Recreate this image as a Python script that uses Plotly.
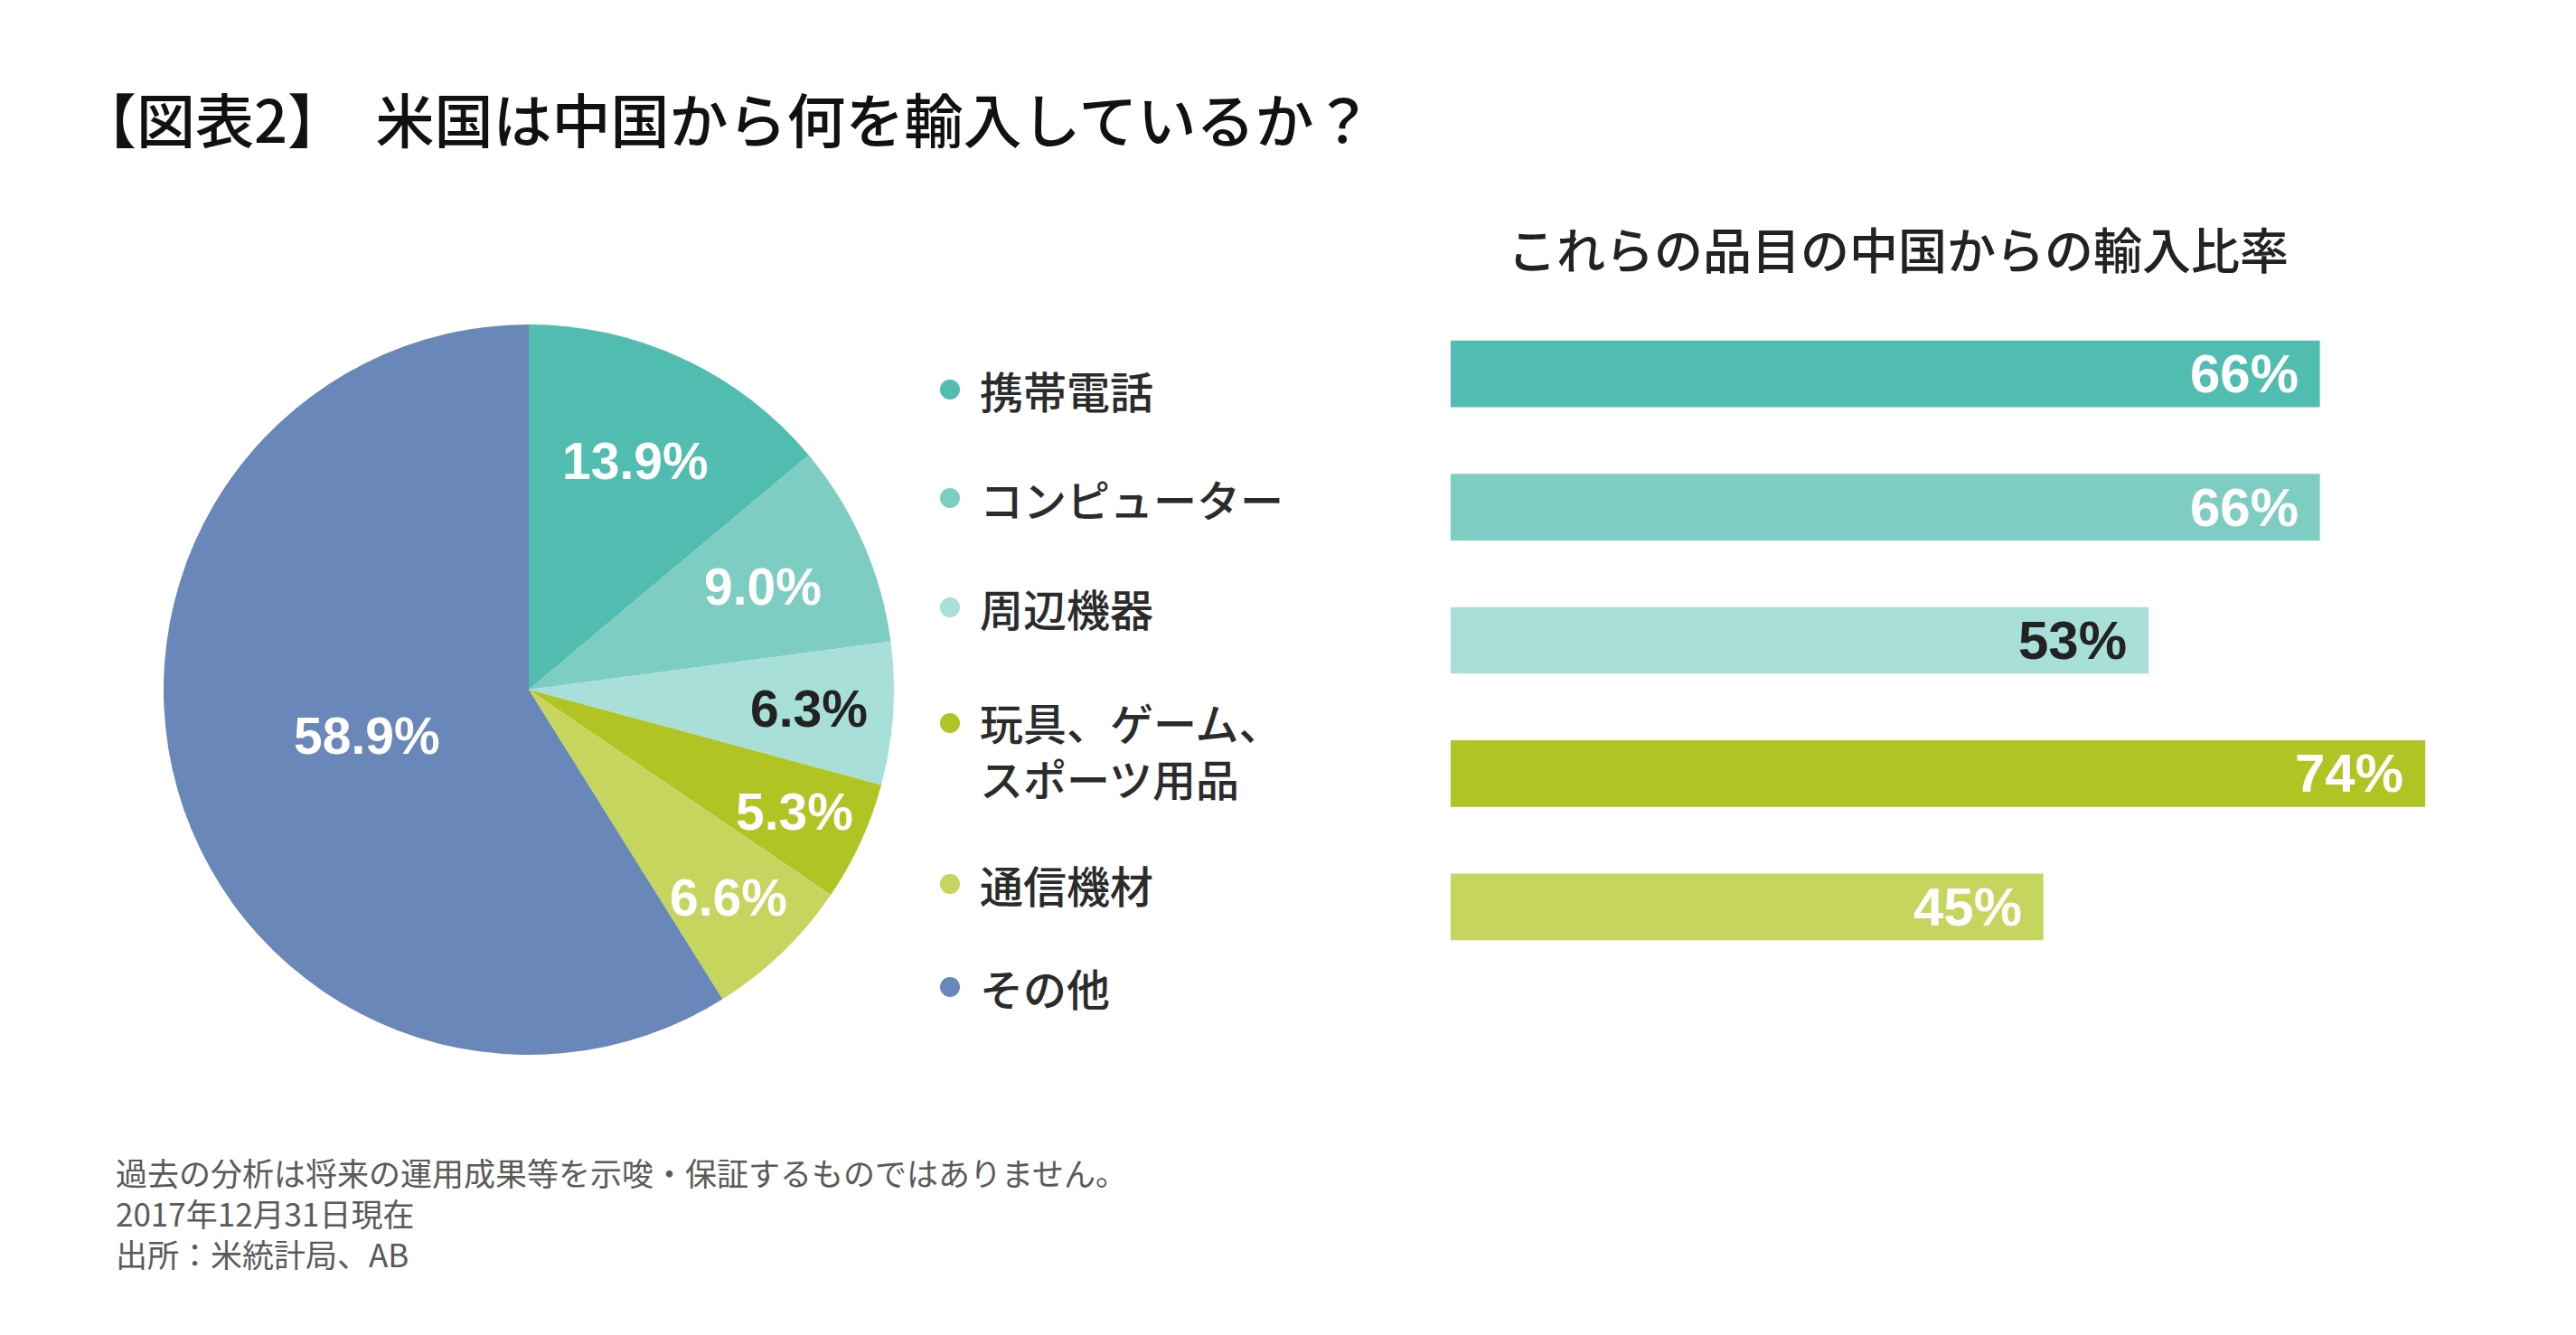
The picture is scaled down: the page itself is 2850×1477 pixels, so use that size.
import math
import plotly.graph_objects as go

# ---------------- data ----------------
categories = ["携帯電話", "コンピューター", "周辺機器", "玩具、ゲーム、スポーツ用品", "通信機材", "その他"]
legend_labels = ["携帯電話", "コンピューター", "周辺機器", "玩具、ゲーム、<br>スポーツ用品", "通信機材", "その他"]
share = [13.9, 9.0, 6.3, 5.3, 6.6, 58.9]
bar_categories = ["携帯電話", "コンピューター", "周辺機器", "玩具、ゲーム、スポーツ用品", "通信機材"]
china_ratio = [66, 66, 53, 74, 45]

title_text = "【図表2】　米国は中国から何を輸入しているか？"
subtitle_text = "これらの品目の中国からの輸入比率"
footnotes = ["過去の分析は将来の運用成果等を示唆・保証するものではありません。",
             "2017年12月31日現在",
             "出所：米統計局、AB"]

# ---------------- style ----------------
OFF = 8                      # page body margin
W, H = 2850 - 2 * OFF, 1477 - 2 * OFF
colors = ["#51BDB0", "#7ECDC2", "#A8DFD9", "#B0C424", "#C6D55E", "#6987B8"]
pie_label_colors = ["white", "white", "#222222", "white", "white", "white"]
bar_label_colors = ["white", "white", "#222222", "white", "white"]
JP = "Noto Sans CJK JP"
NUM = "Liberation Sans"

def px(x):
    return (x - OFF) / W

def py(y):
    return 1 - (y - OFF) / H

# pie geometry (window pixels)
cx, cy, R = 585, 763, 404
label_radius = [0.69, 0.70, 0.77, 0.80, 0.79, 0.46]

fig = go.Figure()

fig.add_trace(go.Pie(
    values=share, labels=categories, sort=False, direction="clockwise", rotation=0,
    marker=dict(colors=colors, line=dict(width=0)),
    textinfo="none", showlegend=False,
    domain=dict(x=[px(cx - R), px(cx + R)], y=[py(cy + R), py(cy - R)]),
))

# bar chart
bar_left, bar_right = 1605, 2700
scale = 14.57  # px per percent
fig.add_trace(go.Bar(
    x=china_ratio, y=bar_categories, orientation="h", width=0.5,
    marker=dict(color=colors[:5], line=dict(width=0)),
    showlegend=False, xaxis="x", yaxis="y",
))

annotations = []
shapes = []

# pie labels
total = sum(share)
cum = 0
for i, v in enumerate(share):
    mid = (cum + v / 2) / total
    cum += v
    th = mid * 2 * math.pi
    r = R * label_radius[i]
    x = cx + r * math.sin(th)
    y = cy - r * math.cos(th)
    annotations.append(dict(
        x=px(x), y=py(y), xref="paper", yref="paper", showarrow=False,
        text=f"{v:.1f}%", font=dict(family=NUM, size=57, color=pie_label_colors[i], weight="bold"),
        xanchor="center", yanchor="middle",
    ))

# bar value labels
for i, v in enumerate(china_ratio):
    annotations.append(dict(
        x=v, y=bar_categories[i], xref="x", yref="y", showarrow=False,
        text=f"{v}%", xanchor="right", yanchor="middle", xshift=-22,
        font=dict(family=NUM, size=60, color=bar_label_colors[i], weight="bold"),
    ))

# legend
legend_y = [431, 551, 672, 800, 978, 1092]
for i, lab in enumerate(legend_labels):
    yy = legend_y[i]
    shapes.append(dict(
        type="circle", xref="paper", yref="paper", xsizemode="pixel", ysizemode="pixel",
        xanchor=px(1051), yanchor=py(yy), x0=-11, x1=11, y0=-11, y1=11,
        fillcolor=colors[i], line=dict(width=0),
    ))
    ty = yy + 29 if "<br>" in lab else yy
    annotations.append(dict(
        x=px(1082), y=py(ty), xref="paper", yref="paper", showarrow=False,
        text=lab, xanchor="left", yanchor="middle", align="left",
        font=dict(family=JP, size=48, color="#2b2b2b", weight=500),
    ))

# title / subtitle
annotations.append(dict(
    x=px(84), y=py(130), xref="paper", yref="paper", showarrow=False,
    text=title_text, xanchor="left", yanchor="middle",
    font=dict(family=JP, size=65, color="#111111", weight=500),
))
annotations.append(dict(
    x=px(2100), y=py(274), xref="paper", yref="paper", showarrow=False,
    text=subtitle_text, xanchor="center", yanchor="middle",
    font=dict(family=JP, size=54, color="#222222", weight=500),
))

# footnotes
for j, t in enumerate(footnotes):
    annotations.append(dict(
        x=px(126), y=py(1296 + 45 * j), xref="paper", yref="paper", showarrow=False,
        text=t, xanchor="left", yanchor="middle",
        font=dict(family=JP, size=35, color="#5a5a5a"),
    ))

bar_top, bar_bottom = 340, 1077
fig.update_layout(
    width=W, height=H, margin=dict(l=0, r=0, t=0, b=0),
    paper_bgcolor="white", plot_bgcolor="white",
    xaxis=dict(domain=[px(bar_left), px(bar_right)], range=[0, (bar_right - bar_left) / scale],
               showgrid=False, zeroline=False, showticklabels=False, showline=False, fixedrange=True),
    yaxis=dict(domain=[py(bar_bottom), py(bar_top)], range=[4.5, -0.5], type="category",
               categoryorder="array", categoryarray=bar_categories,
               showgrid=False, zeroline=False, showticklabels=False, showline=False, fixedrange=True),
    annotations=annotations, shapes=shapes,
    font=dict(family=JP),
)

fig.write_html("out.html")
